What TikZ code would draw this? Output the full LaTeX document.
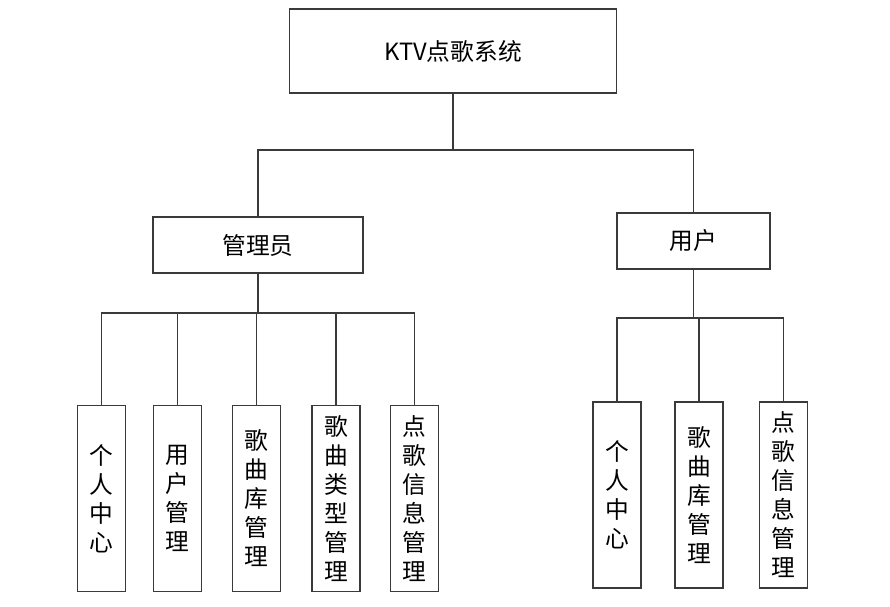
\documentclass[tikz,border=0pt]{standalone}
\usepackage{fontspec}
\setmainfont{Noto Sans CJK SC}
\usepackage{tikz}
\usetikzlibrary{positioning}
\definecolor{edge}{HTML}{3A3A3A}

\begin{document}
\begin{tikzpicture}[x=0.02cm, y=-0.02cm, line width=0.6pt,
    font=\fontsize{13.5}{16.5}\selectfont,
    box/.style={draw=edge, fill=white, inner sep=0pt, align=center},
    leafbox/.style={box, minimum width=0.96cm, minimum height=3.72cm}]
  \useasboundingbox (0,0) rectangle (890,607);
  % top level
  \node[box, minimum width=6.56cm, minimum height=1.68cm] (sys) at (453,51) {KTV点歌系统};
  \node[box, minimum width=4.2cm, minimum height=1.12cm] (admin) at (258,245) {管理员};
  \node[box, minimum width=3.06cm, minimum height=1.12cm] (user) at (693.5,241) {用户};
  \coordinate (busTop) at (453,150);
  \draw[edge] (sys.south) -- (busTop);
  \draw[edge] (admin.north) |- (busTop);
  \draw[edge] (user.north) |- (busTop);
  % admin leaves
  \node[leafbox] (a1) at (101.5,498.5) {个\\人\\中\\心};
  \node[leafbox] (a2) at (177.5,498.5) {用\\户\\管\\理};
  \node[leafbox] (a3) at (256.5,498.5) {歌\\曲\\库\\管\\理};
  \node[leafbox] (a4) at (336,498.5) {歌\\曲\\类\\型\\管\\理};
  \node[leafbox] (a5) at (414.5,498.5) {点\\歌\\信\\息\\管\\理};
  \coordinate (busA) at (258,313);
  \draw[edge] (admin.south) -- (busA);
  \foreach \i in {1,...,5} \draw[edge] (a\i.north) |- (busA);
  % user leaves
  \node[leafbox] (u1) at (617,495) {个\\人\\中\\心};
  \node[leafbox] (u2) at (699,495) {歌\\曲\\库\\管\\理};
  \node[leafbox] (u3) at (783.5,495) {点\\歌\\信\\息\\管\\理};
  \coordinate (busU) at (693.5,318);
  \draw[edge] (user.south) -- (busU);
  \foreach \i in {1,2,3} \draw[edge] (u\i.north) |- (busU);
\end{tikzpicture}
\end{document}
